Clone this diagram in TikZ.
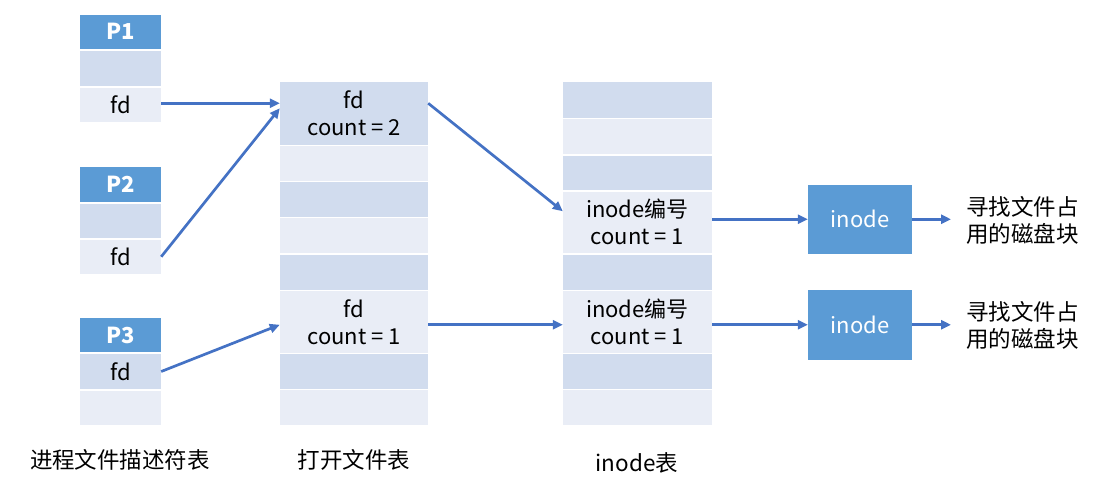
\documentclass[tikz,border=0pt]{standalone}
\usepackage{fontspec}
\setmainfont{Noto Sans CJK SC}
\usetikzlibrary{arrows.meta,calc}
\definecolor{hdr}{HTML}{5B9BD5}
\definecolor{rowa}{HTML}{D1DCEE}
\definecolor{rowb}{HTML}{E9EDF6}
\definecolor{arr}{HTML}{4472C4}
\newcommand{\mycell}[7]{\node[cellbox, fill=#6, minimum width={#3-#2}, minimum height={#5-#4}] (#1) at ({(#2+#3)/2},{(#4+#5)/2}) {#7};}
\begin{document}
\begin{tikzpicture}[x=1pt,y=-1pt,
  cellbox/.style={rectangle, draw=none, inner sep=0pt, align=center, font=\fontsize{22}{27}\selectfont},
  conn/.style={draw=arr, line width=2.7pt, -{Triangle[length=10pt,width=9pt]}},
  side/.style={anchor=west, inner sep=0pt, align=left, font=\fontsize{22.5}{27}\selectfont},
  caption/.style={inner sep=0pt, font=\fontsize{22.5}{26}\selectfont}]
\useasboundingbox (0,0) rectangle (1119,485);
% process tables
\mycell{p1h}{80}{161}{15}{48.5}{hdr}{\textcolor{white}{\bfseries P1}}
\mycell{p1a}{80}{161}{50.5}{86}{rowa}{}
\mycell{p1fd}{80}{161}{87.5}{122}{rowb}{fd}
\mycell{p2h}{80}{161}{167}{201.5}{hdr}{\textcolor{white}{\bfseries P2}}
\mycell{p2a}{80}{161}{203.5}{238}{rowa}{}
\mycell{p2fd}{80}{161}{239.5}{274}{rowb}{fd}
\mycell{p3h}{80}{161}{318}{352}{hdr}{\textcolor{white}{\bfseries P3}}
\mycell{p3fd}{80}{161}{354}{389}{rowa}{fd}
\mycell{p3b}{80}{161}{390.5}{425}{rowb}{}
% open file table
\mycell{o1}{280}{428}{82}{144.5}{rowa}{fd\\count = 2}
\mycell{o2}{280}{428}{146}{180.5}{rowb}{}
\mycell{o3}{280}{428}{182}{216.5}{rowa}{}
\mycell{o4}{280}{428}{218}{253}{rowb}{}
\mycell{o5}{280}{428}{254.5}{289.5}{rowa}{}
\mycell{o6}{280}{428}{291}{352.5}{rowb}{fd\\count = 1}
\mycell{o7}{280}{428}{354}{388.5}{rowa}{}
\mycell{o8}{280}{428}{390}{425}{rowb}{}
% inode table
\mycell{i1}{563}{712}{82}{117.5}{rowa}{}
\mycell{i2}{563}{712}{119}{154}{rowb}{}
\mycell{i3}{563}{712}{155.5}{190}{rowa}{}
\mycell{i4}{563}{712}{191.5}{253}{rowb}{inode编号\\count = 1}
\mycell{i5}{563}{712}{254.5}{289.5}{rowa}{}
\mycell{i6}{563}{712}{291}{352.5}{rowb}{inode编号\\count = 1}
\mycell{i7}{563}{712}{354}{388.5}{rowa}{}
\mycell{i8}{563}{712}{390}{425}{rowb}{}
% inode boxes
\mycell{n1}{808}{912}{184.5}{254}{hdr}{\textcolor{white}{inode}}
\mycell{n2}{808}{912}{290}{359.5}{hdr}{\textcolor{white}{inode}}
% side texts
\node[side] (t1) at (966,220) {寻找文件占\\用的磁盘块};
\node[side] (t2) at (966,325) {寻找文件占\\用的磁盘块};
% captions
\node[caption] (c1) at (120,460) {进程文件描述符表};
\node[caption] (c2) at (354,460) {打开文件表};
\node[caption] (c3) at (637,463) {inode表};
% connectors
\draw[conn] ([yshift=1.5pt]p1fd.east) -- ([yshift=1.5pt]o1.west |- p1fd.east);
\draw[conn] (p2fd.east) -- ([yshift=5pt]o1.west);
\draw[conn] (p3fd.east) -- ([yshift=-3pt]o6.west);
\draw[conn] ([yshift=10pt]o1.east) -- ([yshift=11pt]i4.west);
\draw[conn] ([yshift=-3pt]o6.east) -- ([yshift=-3pt]i6.west);
\draw[conn] (n1.west -| i4.east) -- (n1.west);
\draw[conn] (n2.west -| i6.east) -- (n2.west);
\draw[conn] (n1.east) -- ([xshift=-15pt]t1.west |- n1.east);
\draw[conn] (n2.east) -- ([xshift=-15pt]t2.west |- n2.east);
\end{tikzpicture}
\end{document}
